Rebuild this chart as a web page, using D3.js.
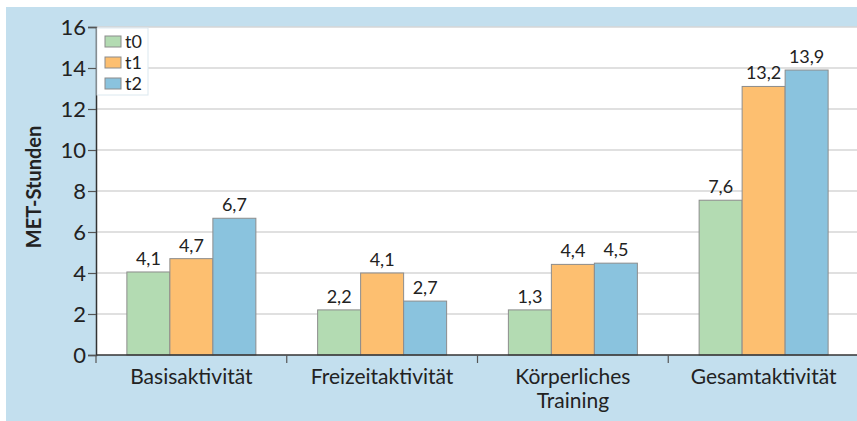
<!DOCTYPE html>
<html>
<head>
<meta charset="utf-8">
<script src="https://cdn.jsdelivr.net/npm/d3@7"></script>
<style>
  html, body { margin: 0; padding: 0; background: #fff; }
  #chart { width: 857px; height: 421px; }
  text { font-family: Lato, "Open Sans", sans-serif; fill: #222; }
</style>
</head>
<body>
<div id="chart"></div>
<script>
// MET-Stunden nach Aktivitätsbereich, drei Messzeitpunkte

const categories = ["Basisaktivität", "Freizeitaktivität", "Körperliches Training", "Gesamtaktivität"];
const seriesNames = ["t0", "t1", "t2"];

// bar heights as drawn
const t0Values = [4.05, 2.2, 2.2, 7.55];
const t1Values = [4.7, 4.0, 4.42, 13.1];
const t2Values = [6.67, 2.63, 4.48, 13.9];

// value labels as printed
const t0Labels = ["4,1", "2,2", "1,3", "7,6"];
const t1Labels = ["4,7", "4,1", "4,4", "13,2"];
const t2Labels = ["6,7", "2,7", "4,5", "13,9"];

const yTicks = [0, 2, 4, 6, 8, 10, 12, 14, 16];

const colors = ["#b3dbb2", "#fdbf70", "#8ac3de"];

function renderChart(containerId) {
  const width = 857, height = 421;
  const margin = { top: 27, right: -2, bottom: 66, left: 96 };
  const innerWidth = width - margin.left - margin.right;
  const innerHeight = height - margin.top - margin.bottom;

  const svg = d3.select(`#${containerId}`)
    .append("svg")
    .attr("width", width)
    .attr("height", height);

  // blue frame + white plot area
  svg.append("rect")
    .attr("x", 6).attr("y", 7)
    .attr("width", width - 6).attr("height", height - 7)
    .attr("fill", "#c3dfee");

  const g = svg.append("g")
    .attr("transform", `translate(${margin.left},${margin.top})`);

  g.append("rect")
    .attr("width", innerWidth).attr("height", innerHeight)
    .attr("fill", "#fff");

  const x0 = d3.scaleBand()
    .domain(categories)
    .range([0, innerWidth])
    .paddingInner(0)
    .paddingOuter(0);

  const barW = 43;
  const x1 = d3.scaleBand()
    .domain(seriesNames)
    .range([(x0.bandwidth() - barW * 3) / 2, (x0.bandwidth() + barW * 3) / 2]);

  const y = d3.scaleLinear()
    .domain([0, 16])
    .range([innerHeight, 0]);

  // grid lines
  g.append("g")
    .selectAll("line")
    .data(yTicks.filter(d => d > 0))
    .join("line")
    .attr("x1", 0).attr("x2", innerWidth)
    .attr("y1", d => y(d)).attr("y2", d => y(d))
    .attr("stroke", "#d6d6d6")
    .attr("stroke-width", 1.5);

  const series = [
    { name: "t0", values: t0Values, labels: t0Labels },
    { name: "t1", values: t1Values, labels: t1Labels },
    { name: "t2", values: t2Values, labels: t2Labels }
  ];

  const rows = [];
  series.forEach((s, si) => {
    categories.forEach((c, ci) => {
      rows.push({ cat: c, name: s.name, value: s.values[ci], label: s.labels[ci], si });
    });
  });

  // bars
  g.append("g")
    .selectAll("rect")
    .data(rows)
    .join("rect")
    .attr("x", d => x0(d.cat) + x1(d.name))
    .attr("y", d => y(d.value))
    .attr("width", x1.bandwidth())
    .attr("height", d => y(0) - y(d.value))
    .attr("fill", d => colors[d.si])
    .attr("stroke", "#8c8c8c")
    .attr("stroke-width", 1);

  // value labels
  g.append("g")
    .selectAll("text")
    .data(rows)
    .join("text")
    .attr("x", d => x0(d.cat) + x1(d.name) + x1.bandwidth() / 2)
    .attr("y", d => y(d.value) - 7)
    .attr("text-anchor", "middle")
    .style("font-size", "18px")
    .text(d => d.label);

  // y axis
  const yAxis = g.append("g")
    .call(d3.axisLeft(y).tickValues(yTicks).tickSize(8).tickPadding(2));
  yAxis.select(".domain").attr("stroke", "#333").attr("stroke-width", 1.5);
  yAxis.selectAll(".tick line").attr("stroke", "#555").attr("stroke-width", 1.2);
  yAxis.selectAll(".tick text")
    .style("font-size", "22px")
    .style("font-family", "Lato, sans-serif")
    .attr("fill", "#222");

  // x axis: ticks at category boundaries
  const xAxisG = g.append("g").attr("transform", `translate(0,${innerHeight})`);
  xAxisG.append("line")
    .attr("x1", 0).attr("x2", innerWidth)
    .attr("stroke", "#333").attr("stroke-width", 1.5);
  xAxisG.selectAll("line.tick")
    .data(categories)
    .join("line")
    .attr("class", "tick")
    .attr("x1", d => x0(d)).attr("x2", d => x0(d))
    .attr("y1", 0).attr("y2", 8)
    .attr("stroke", "#555").attr("stroke-width", 1.2);

  xAxisG.selectAll("text.cat")
    .data(categories)
    .join("text")
    .attr("class", "cat")
    .attr("x", d => x0(d) + x0.bandwidth() / 2)
    .attr("y", 29)
    .attr("text-anchor", "middle")
    .style("font-size", "21px")
    .each(function(d) {
      const parts = d === "Körperliches Training" ? ["Körperliches", "Training"] : [d];
      parts.forEach((p, i) => {
        d3.select(this).append("tspan")
          .attr("x", x0(d) + x0.bandwidth() / 2)
          .attr("dy", i === 0 ? 0 : 24)
          .text(p);
      });
    });

  // y axis title
  svg.append("text")
    .attr("transform", `translate(41,${margin.top + 160}) rotate(-90)`)
    .attr("text-anchor", "middle")
    .style("font-size", "20px")
    .style("font-weight", "bold")
    .text("MET-Stunden");

  // legend
  const legend = g.append("g").attr("transform", "translate(1,1)");
  legend.append("rect")
    .attr("width", 51).attr("height", 67)
    .attr("fill", "#fff")
    .attr("stroke", "#dbe8ef");
  seriesNames.forEach((name, i) => {
    const row = legend.append("g").attr("transform", `translate(8,${8 + i * 21})`);
    row.append("rect")
      .attr("width", 16).attr("height", 11)
      .attr("fill", colors[i])
      .attr("stroke", "#8c8c8c");
    row.append("text")
      .attr("x", 20).attr("y", 12)
      .style("font-size", "18px")
      .text(name);
  });
}

document.addEventListener("DOMContentLoaded", () => {
  renderChart("chart");
});
</script>
</body>
</html>
